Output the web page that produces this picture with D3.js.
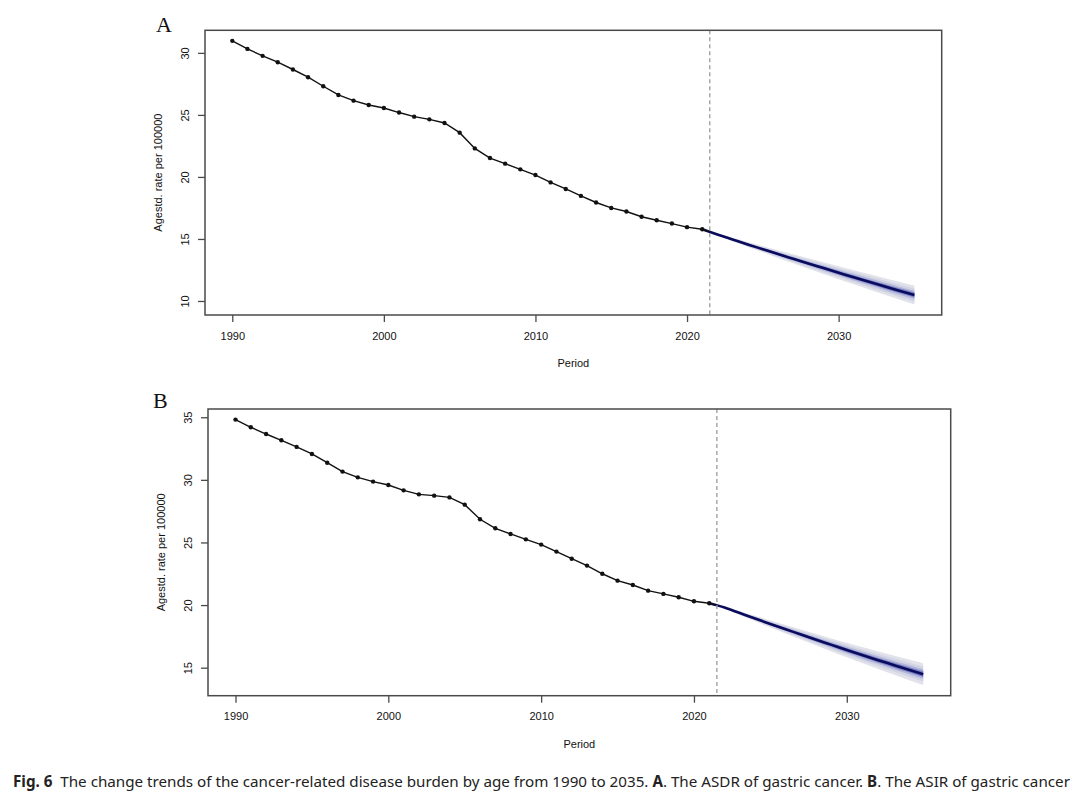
<!DOCTYPE html>
<html>
<head>
<meta charset="utf-8">
<script src="https://cdn.jsdelivr.net/npm/d3@7"></script>
<style>
  body { margin: 0; background: #fff; }
  svg text { font-family: 'Liberation Sans', Arial, sans-serif; }
</style>
</head>
<body>
<div id="chart"></div>
<script>
// observed years 1990-2021
let years = d3.range(1990, 2022)

let asdr = [30.97, 30.32, 29.76, 29.25, 28.66, 28.04, 27.31, 26.61, 26.15, 25.8,
  25.56, 25.19, 24.86, 24.64, 24.35, 23.57, 22.3, 21.52, 21.07, 20.61,
  20.15, 19.56, 19.03, 18.47, 17.94, 17.5, 17.21, 16.79, 16.51, 16.24,
  15.95, 15.78]

let asir = [34.81, 34.2, 33.66, 33.16, 32.63, 32.07, 31.37, 30.66, 30.2, 29.86,
  29.59, 29.16, 28.84, 28.74, 28.6, 28.02, 26.85, 26.13, 25.68, 25.25,
  24.83, 24.27, 23.7, 23.15, 22.5, 21.95, 21.6, 21.15, 20.89, 20.62,
  20.3, 20.14]

// projection 2021-2035
let forecastYears = d3.range(2021, 2036)

let asdrForecast = [15.78, 15.36, 14.96, 14.56, 14.17, 13.78, 13.4, 13.02, 12.65, 12.28,
  11.91, 11.55, 11.19, 10.83, 10.48]
let asdrBand = [0, 0.08, 0.14, 0.2, 0.25, 0.31, 0.36, 0.42, 0.47, 0.52, 0.57, 0.62, 0.67, 0.72, 0.76]

let asirForecast = [20.14, 19.8, 19.36, 18.92, 18.49, 18.07, 17.65, 17.23, 16.82, 16.41,
  16.01, 15.62, 15.24, 14.86, 14.48]
let asirBand = [0, 0.08, 0.15, 0.22, 0.28, 0.34, 0.4, 0.46, 0.52, 0.58, 0.64, 0.7, 0.76, 0.82, 0.87]

let xTicks = [1990, 2000, 2010, 2020, 2030]
let yTicksA = [10, 15, 20, 25, 30]
let yTicksB = [15, 20, 25, 30, 35]

let cutYear = 2021.5
let fanLevels = [1, 0.7, 0.45, 0.26]
let fanColors = ['#e1e2ea', '#d2d4e4', '#b2b6da', '#7880c4']

let svg = d3
  .select('#chart')
  .append('svg')
  .attr('width', 1076)
  .attr('height', 811)

function drawPanel(box, letter, obs, fc, band, yTicks) {
  let g = svg.append('g')

  // R style axis limits: data range plus 4% each side
  let lows = fc.map((v, i) => v - band[i])
  let yMin = d3.min(lows.concat(obs))
  let yMax = d3.max(obs.concat(fc))
  let yPad = (yMax - yMin) * 0.04

  let x = d3.scaleLinear()
    .domain([1990 - 45 * 0.04, 2035 + 45 * 0.04])
    .range([box.left, box.right])
  let y = d3.scaleLinear()
    .domain([yMin - yPad, yMax + yPad])
    .range([box.bottom, box.top])

  // fan of projection intervals
  fanLevels.forEach((f, k) => {
    let area = d3.area()
      .x((d, i) => x(forecastYears[i]))
      .y0((d, i) => y(d - band[i] * f))
      .y1((d, i) => y(d + band[i] * f))
      .curve(d3.curveMonotoneX)
    g.append('path')
      .datum(fc)
      .attr('d', area)
      .attr('fill', fanColors[k])
  })

  g.append('path')
    .datum(fc)
    .attr('d', d3.line()
      .x((d, i) => x(forecastYears[i]))
      .y(d => y(d))
      .curve(d3.curveMonotoneX))
    .attr('fill', 'none')
    .attr('stroke', '#0a0b5c')
    .attr('stroke-width', 2.6)

  // observed line with points
  g.append('path')
    .datum(obs)
    .attr('d', d3.line().x((d, i) => x(years[i])).y(d => y(d)))
    .attr('fill', 'none')
    .attr('stroke', '#111')
    .attr('stroke-width', 1.4)

  g.selectAll('.pt')
    .data(obs)
    .enter()
    .append('circle')
    .attr('class', 'pt')
    .attr('cx', (d, i) => x(years[i]))
    .attr('cy', d => y(d))
    .attr('r', 2.2)
    .attr('fill', '#111')

  // short bit of black joining last point to the projection
  g.append('line')
    .attr('x1', x(2021)).attr('y1', y(obs[obs.length - 1]))
    .attr('x2', x(cutYear)).attr('y2', y((fc[0] + fc[1]) / 2))
    .attr('stroke', '#111')
    .attr('stroke-width', 1.4)

  // dashed line at the start of projection
  g.append('line')
    .attr('x1', x(cutYear)).attr('x2', x(cutYear))
    .attr('y1', box.top).attr('y2', box.bottom)
    .attr('stroke', '#9a9a9a')
    .attr('stroke-width', 1.3)
    .attr('stroke-dasharray', '4,3')

  // frame
  g.append('rect')
    .attr('x', box.left).attr('y', box.top)
    .attr('width', box.right - box.left)
    .attr('height', box.bottom - box.top)
    .attr('fill', 'none')
    .attr('stroke', '#4a4a4a')
    .attr('stroke-width', 1.5)

  let xAxis = g.append('g')
    .attr('transform', 'translate(0,' + box.bottom + ')')
    .call(d3.axisBottom(x).tickValues(xTicks).tickFormat(d3.format('d')).tickSize(7).tickPadding(10))
  xAxis.select('.domain').remove()
  xAxis.selectAll('line').attr('stroke', '#4a4a4a').attr('stroke-width', 1.3)
  xAxis.selectAll('text').attr('font-size', 11).attr('fill', '#111')
    .style('font-family', "'Liberation Sans', Arial, sans-serif")

  let yAxis = g.append('g')
    .attr('transform', 'translate(' + box.left + ',0)')
    .call(d3.axisLeft(y).tickValues(yTicks).tickSize(7))
  yAxis.select('.domain').remove()
  yAxis.selectAll('line').attr('stroke', '#4a4a4a').attr('stroke-width', 1.3)
  yAxis.selectAll('text')
    .attr('x', null).attr('dy', null)
    .attr('text-anchor', 'middle')
    .attr('transform', 'translate(-16,0) rotate(-90)')
    .attr('font-size', 11).attr('fill', '#111')
    .style('font-family', "'Liberation Sans', Arial, sans-serif")

  g.append('text')
    .attr('x', (box.left + box.right) / 2)
    .attr('y', box.bottom + 52)
    .attr('text-anchor', 'middle')
    .attr('font-size', 11)
    .attr('fill', '#111')
    .text('Period')

  g.append('text')
    .attr('transform', 'translate(' + (box.left - 43) + ',' + (box.top + box.bottom) / 2 + ') rotate(-90)')
    .attr('text-anchor', 'middle')
    .attr('font-size', 11)
    .attr('fill', '#111')
    .text('Agestd. rate per 100000')

  g.append('text')
    .attr('x', box.letterX)
    .attr('y', box.letterY)
    .style('font-family', "'Liberation Serif', 'Times New Roman', serif")
    .attr('font-size', 22)
    .attr('fill', '#111')
    .text(letter)
}

drawPanel({ left: 205, right: 941.7, top: 30.3, bottom: 315, letterX: 156, letterY: 32 },
  'A', asdr, asdrForecast, asdrBand, yTicksA)
drawPanel({ left: 208, right: 950.7, top: 409, bottom: 695.7, letterX: 153, letterY: 407.5 },
  'B', asir, asirForecast, asirBand, yTicksB)

// figure caption
let caption = svg.append('text')
  .attr('x', 13)
  .attr('y', 787)
  .style('font-family', "'Noto Sans', 'Open Sans', sans-serif")
  .attr('font-size', 15.2)
  .attr('fill', '#222')

caption.append('tspan').attr('font-weight', 'bold').text('Fig. 6')
caption.append('tspan').text('\u00a0 The change trends of the cancer-related disease burden by age from 1990 to 2035. ')
caption.append('tspan').attr('font-weight', 'bold').text('A')
caption.append('tspan').text('. The ASDR of gastric cancer. ')
caption.append('tspan').attr('font-weight', 'bold').text('B')
caption.append('tspan').text('. The ASIR of gastric cancer')
</script>
</body>
</html>
